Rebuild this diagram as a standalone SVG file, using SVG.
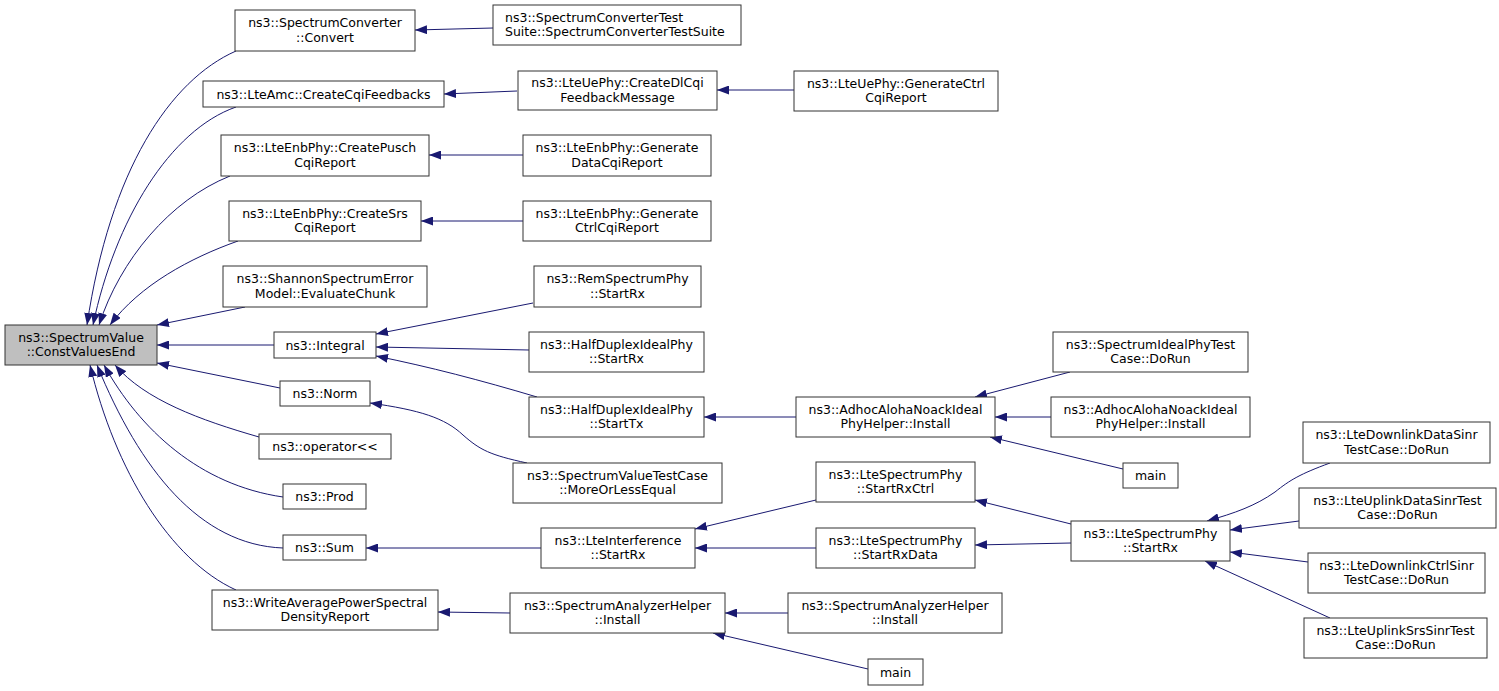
<svg xmlns="http://www.w3.org/2000/svg" width="1499" height="691" viewBox="0 0 1499 691">
<style>
.n rect{fill:#fff;stroke:#333;stroke-width:1}
.n text{font-family:"DejaVu Sans",sans-serif;font-size:12.5px;fill:#000;text-anchor:middle}
.n text.l{text-anchor:start}
#n0 rect{fill:#bfbfbf}
#edges path{fill:none;stroke:#191970;stroke-width:1}
</style>
<defs>
<marker id="a" viewBox="0 0 12 9" refX="12" refY="4.5" markerWidth="12" markerHeight="9" orient="auto" markerUnits="userSpaceOnUse">
<path d="M0,0 L12,4.5 L0,9 z" fill="#191970"/>
</marker>
</defs>
<g id="edges" marker-end="url(#a)">
<path d="M236,51 C170,80 110,170 87,325" marker-end="url(#a)"/>
<path d="M236,107 C170,130 115,220 93,325" marker-end="url(#a)"/>
<path d="M230,176 C170,200 120,260 99,325" marker-end="url(#a)"/>
<path d="M238,241 C190,258 140,285 110,325" marker-end="url(#a)"/>
<path d="M245,307 L157,325" marker-end="url(#a)"/>
<path d="M274,345 L157,345" marker-end="url(#a)"/>
<path d="M280,388 L157,363" marker-end="url(#a)"/>
<path d="M259,437 C200,420 145,400 115,365" marker-end="url(#a)"/>
<path d="M283,497 C200,485 140,430 104,365" marker-end="url(#a)"/>
<path d="M283,548 C200,545 140,470 97,365" marker-end="url(#a)"/>
<path d="M236,590 C170,560 115,470 90,365" marker-end="url(#a)"/>
<path d="M493,28 L415,30" marker-end="url(#a)"/>
<path d="M517,91 L444,94" marker-end="url(#a)"/>
<path d="M794,90 L717,90" marker-end="url(#a)"/>
<path d="M523,155 L429,155" marker-end="url(#a)"/>
<path d="M523,221 L421,221" marker-end="url(#a)"/>
<path d="M533,303 L376,334" marker-end="url(#a)"/>
<path d="M529,350 L376,347" marker-end="url(#a)"/>
<path d="M537,397 C480,380 430,367 376,356" marker-end="url(#a)"/>
<path d="M527,463 C490,455 480,450 463,435 C445,418 420,410 370,403" marker-end="url(#a)"/>
<path d="M796,417 L704,417" marker-end="url(#a)"/>
<path d="M1070,372 L975,397" marker-end="url(#a)"/>
<path d="M1051,417 L995,417" marker-end="url(#a)"/>
<path d="M1123,469 L990,437" marker-end="url(#a)"/>
<path d="M541,548 L366,548" marker-end="url(#a)"/>
<path d="M816,500 L695,529" marker-end="url(#a)"/>
<path d="M816,548 L695,548" marker-end="url(#a)"/>
<path d="M1071,524 L975,500" marker-end="url(#a)"/>
<path d="M1071,543 L975,545" marker-end="url(#a)"/>
<path d="M1330,463 C1300,474 1290,480 1275,492 C1255,506 1235,513 1207,521" marker-end="url(#a)"/>
<path d="M1299,521 L1230,530" marker-end="url(#a)"/>
<path d="M1308,562 L1230,552" marker-end="url(#a)"/>
<path d="M1330,618 L1205,561" marker-end="url(#a)"/>
<path d="M510,613 L438,612" marker-end="url(#a)"/>
<path d="M788,613 L725,613" marker-end="url(#a)"/>
<path d="M868,669 L713,633" marker-end="url(#a)"/>
</g>
<g id="n0" class="n"><rect x="5" y="325" width="152" height="40"/><text x="81" y="341.5">ns3::SpectrumValue</text><text x="81" y="356">::ConstValuesEnd</text></g>
<g id="n1" class="n"><rect x="235" y="10" width="180" height="41"/><text x="325" y="27">ns3::SpectrumConverter</text><text x="325" y="41.5">::Convert</text></g>
<g id="n2" class="n"><rect x="493" y="5" width="248" height="40"/><text class="l" x="505" y="21.5">ns3::SpectrumConverterTest</text><text class="l" x="505" y="36">Suite::SpectrumConverterTestSuite</text></g>
<g id="n3" class="n"><rect x="203" y="81" width="241" height="26"/><text x="323.5" y="98.5">ns3::LteAmc::CreateCqiFeedbacks</text></g>
<g id="n4" class="n"><rect x="518" y="71" width="199" height="39"/><text x="617.5" y="87">ns3::LteUePhy::CreateDlCqi</text><text x="617.5" y="101.5">FeedbackMessage</text></g>
<g id="n5" class="n"><rect x="794" y="71" width="204" height="40"/><text x="896" y="87.5">ns3::LteUePhy::GenerateCtrl</text><text x="896" y="102">CqiReport</text></g>
<g id="n6" class="n"><rect x="221" y="135" width="208" height="41"/><text x="325" y="152">ns3::LteEnbPhy::CreatePusch</text><text x="325" y="166.5">CqiReport</text></g>
<g id="n7" class="n"><rect x="523" y="135" width="188" height="41"/><text x="617" y="152">ns3::LteEnbPhy::Generate</text><text x="617" y="166.5">DataCqiReport</text></g>
<g id="n8" class="n"><rect x="229" y="201" width="192" height="40"/><text x="325" y="217.5">ns3::LteEnbPhy::CreateSrs</text><text x="325" y="232">CqiReport</text></g>
<g id="n9" class="n"><rect x="523" y="201" width="188" height="40"/><text x="617" y="217.5">ns3::LteEnbPhy::Generate</text><text x="617" y="232">CtrlCqiReport</text></g>
<g id="n10" class="n"><rect x="223" y="266" width="204" height="41"/><text x="325" y="283">ns3::ShannonSpectrumError</text><text x="325" y="297.5">Model::EvaluateChunk</text></g>
<g id="n11" class="n"><rect x="534" y="266" width="167" height="41"/><text x="617.5" y="283">ns3::RemSpectrumPhy</text><text x="617.5" y="297.5">::StartRx</text></g>
<g id="n12" class="n"><rect x="274" y="332" width="102" height="26"/><text x="325" y="349.5">ns3::Integral</text></g>
<g id="n13" class="n"><rect x="529" y="332" width="175" height="40"/><text x="616.5" y="348.5">ns3::HalfDuplexIdealPhy</text><text x="616.5" y="363">::StartRx</text></g>
<g id="n14" class="n"><rect x="280" y="381" width="90" height="25"/><text x="325" y="398">ns3::Norm</text></g>
<g id="n15" class="n"><rect x="529" y="397" width="175" height="40"/><text x="616.5" y="413.5">ns3::HalfDuplexIdealPhy</text><text x="616.5" y="428">::StartTx</text></g>
<g id="n16" class="n"><rect x="796" y="397" width="199" height="40"/><text x="895.5" y="413.5">ns3::AdhocAlohaNoackIdeal</text><text x="895.5" y="428">PhyHelper::Install</text></g>
<g id="n17" class="n"><rect x="1053" y="332" width="195" height="40"/><text x="1150.5" y="348.5">ns3::SpectrumIdealPhyTest</text><text x="1150.5" y="363">Case::DoRun</text></g>
<g id="n18" class="n"><rect x="1051" y="397" width="199" height="40"/><text x="1150.5" y="413.5">ns3::AdhocAlohaNoackIdeal</text><text x="1150.5" y="428">PhyHelper::Install</text></g>
<g id="n19" class="n"><rect x="1123" y="463" width="55" height="25"/><text x="1150.5" y="480">main</text></g>
<g id="n20" class="n"><rect x="259" y="434" width="132" height="25"/><text x="325" y="451">ns3::operator&lt;&lt;</text></g>
<g id="n21" class="n"><rect x="513" y="463" width="209" height="40"/><text x="617.5" y="479.5">ns3::SpectrumValueTestCase</text><text x="617.5" y="494">::MoreOrLessEqual</text></g>
<g id="n22" class="n"><rect x="283" y="484" width="83" height="25"/><text x="324.5" y="501">ns3::Prod</text></g>
<g id="n23" class="n"><rect x="816" y="462" width="159" height="40"/><text x="895.5" y="478.5">ns3::LteSpectrumPhy</text><text x="895.5" y="493">::StartRxCtrl</text></g>
<g id="n24" class="n"><rect x="283" y="535" width="83" height="25"/><text x="324.5" y="552">ns3::Sum</text></g>
<g id="n25" class="n"><rect x="541" y="528" width="154" height="40"/><text x="618" y="544.5">ns3::LteInterference</text><text x="618" y="559">::StartRx</text></g>
<g id="n26" class="n"><rect x="816" y="528" width="159" height="40"/><text x="895.5" y="544.5">ns3::LteSpectrumPhy</text><text x="895.5" y="559">::StartRxData</text></g>
<g id="n27" class="n"><rect x="1071" y="521" width="159" height="40"/><text x="1150.5" y="537.5">ns3::LteSpectrumPhy</text><text x="1150.5" y="552">::StartRx</text></g>
<g id="n28" class="n"><rect x="1303" y="422" width="187" height="41"/><text x="1396.5" y="439">ns3::LteDownlinkDataSinr</text><text x="1396.5" y="453.5">TestCase::DoRun</text></g>
<g id="n29" class="n"><rect x="1299" y="488" width="197" height="40"/><text x="1397.5" y="504.5">ns3::LteUplinkDataSinrTest</text><text x="1397.5" y="519">Case::DoRun</text></g>
<g id="n30" class="n"><rect x="1308" y="553" width="177" height="40"/><text x="1396.5" y="569.5">ns3::LteDownlinkCtrlSinr</text><text x="1396.5" y="584">TestCase::DoRun</text></g>
<g id="n31" class="n"><rect x="1304" y="618" width="183" height="40"/><text x="1395.5" y="634.5">ns3::LteUplinkSrsSinrTest</text><text x="1395.5" y="649">Case::DoRun</text></g>
<g id="n32" class="n"><rect x="212" y="590" width="226" height="40"/><text x="325" y="606.5">ns3::WriteAveragePowerSpectral</text><text x="325" y="621">DensityReport</text></g>
<g id="n33" class="n"><rect x="510" y="593" width="215" height="40"/><text x="617.5" y="609.5">ns3::SpectrumAnalyzerHelper</text><text x="617.5" y="624">::Install</text></g>
<g id="n34" class="n"><rect x="788" y="593" width="214" height="40"/><text x="895" y="609.5">ns3::SpectrumAnalyzerHelper</text><text x="895" y="624">::Install</text></g>
<g id="n35" class="n"><rect x="868" y="659" width="55" height="26"/><text x="895.5" y="676.5">main</text></g>
</svg>
